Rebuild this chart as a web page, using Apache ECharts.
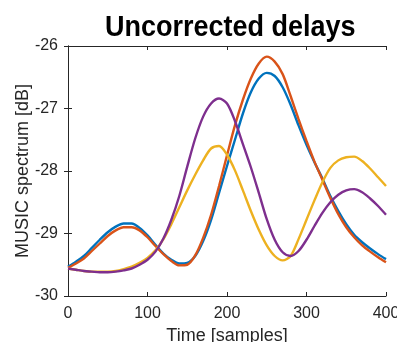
<!DOCTYPE html>
<html>
<head>
<meta charset="utf-8">
<script src="https://cdn.jsdelivr.net/npm/echarts@6/dist/echarts.min.js"></script>
<style>
  html, body { margin: 0; padding: 0; background: #fff; }
  #chart { width: 397px; height: 342px; }
</style>
</head>
<body>
<div id="chart"></div>
<script>
// values, one every 10 samples from 0 to 400 (dB)
const timeSamples = [0, 10, 20, 30, 40, 50, 60, 70, 80, 90, 100, 110, 120, 130, 140, 150, 160, 170, 180, 190, 200,
  210, 220, 230, 240, 250, 260, 270, 280, 290, 300, 310, 320, 330, 340, 350, 360, 370, 380, 390, 400];

const blueY = [-29.53, -29.45, -29.36, -29.23, -29.10, -28.98, -28.89, -28.84, -28.84, -28.91, -29.03,
  -29.18, -29.32, -29.42, -29.48, -29.47, -29.36, -29.12, -28.78, -28.35, -27.92,
  -27.50, -27.08, -26.74, -26.52, -26.43, -26.48, -26.66, -26.94, -27.27, -27.58,
  -27.86, -28.12, -28.40, -28.64, -28.85, -29.02, -29.14, -29.24, -29.33, -29.41];

const orangeY = [-29.55, -29.48, -29.40, -29.28, -29.16, -29.04, -28.95, -28.90, -28.90, -28.95, -29.06,
  -29.20, -29.33, -29.44, -29.51, -29.50, -29.35, -29.07, -28.70, -28.24, -27.75,
  -27.27, -26.86, -26.52, -26.28, -26.17, -26.25, -26.45, -26.80, -27.17, -27.52,
  -27.85, -28.14, -28.43, -28.69, -28.90, -29.06, -29.19, -29.29, -29.38, -29.46];

const yellowY = [-29.56, -29.58, -29.60, -29.61, -29.61, -29.61, -29.60, -29.57, -29.53, -29.47, -29.39,
  -29.27, -29.09, -28.85, -28.58, -28.31, -28.06, -27.83, -27.64, -27.60, -27.74,
  -27.99, -28.31, -28.64, -28.94, -29.19, -29.36, -29.43, -29.36, -29.09, -28.78,
  -28.47, -28.18, -27.95, -27.83, -27.78, -27.77, -27.84, -27.96, -28.10, -28.24];

const purpleY = [-29.56, -29.58, -29.60, -29.61, -29.62, -29.62, -29.61, -29.59, -29.56, -29.50, -29.42,
  -29.29, -29.08, -28.78, -28.40, -27.93, -27.48, -27.13, -26.92, -26.84, -26.92,
  -27.20, -27.57, -27.94, -28.35, -28.77, -29.10, -29.30, -29.36, -29.28, -29.10,
  -28.88, -28.67, -28.50, -28.38, -28.31, -28.29, -28.34, -28.44, -28.56, -28.70];

const seriesList = [
  { y: blueY, color: '#0072BD' },
  { y: orangeY, color: '#D95319' },
  { y: yellowY, color: '#EDB120' },
  { y: purpleY, color: '#7E2F8E' }
];

const axisColor = '#262626';
const labelFont = 'Liberation Sans';
const chart = echarts.init(document.getElementById('chart'));

chart.setOption({
  animation: false,
  // title: narrow bold look, squeezed horizontally
  graphic: [{
    type: 'text',
    x: 105,
    y: 28,
    scaleX: 0.9,
    style: {
      text: 'Uncorrected delays',
      font: 'bold 30px "Liberation Sans"',
      fill: '#000',
      align: 'left',
      verticalAlign: 'middle'
    }
  }],
  grid: { left: 68, right: 11, top: 46, bottom: 46, outerBoundsMode: 'none' },
  xAxis: [
    {
      type: 'value', min: 0, max: 400, interval: 100,
      name: 'Time [samples]', nameLocation: 'middle', nameGap: 29,
      nameTextStyle: { fontFamily: labelFont, fontSize: 18, color: axisColor },
      axisLine: { lineStyle: { color: axisColor } },
      axisTick: { inside: true, length: 4, lineStyle: { color: axisColor } },
      axisLabel: { fontFamily: labelFont, fontSize: 16, color: axisColor, margin: 10 },
      splitLine: { show: false }
    },
    {
      type: 'value', min: 0, max: 400, interval: 100, position: 'top',
      axisLine: { show: true, lineStyle: { color: axisColor } },
      axisTick: { inside: true, length: 4, lineStyle: { color: axisColor } },
      axisLabel: { show: false },
      splitLine: { show: false }
    }
  ],
  yAxis: [
    {
      type: 'value', min: -30, max: -26, interval: 1,
      name: 'MUSIC spectrum [dB]', nameLocation: 'middle', nameGap: 36, nameMoveOverlap: false,
      nameTextStyle: { fontFamily: labelFont, fontSize: 18, color: axisColor },
      axisLine: { show: true, lineStyle: { color: axisColor } },
      axisTick: { show: true, inside: true, length: 4, lineStyle: { color: axisColor } },
      axisLabel: { fontFamily: labelFont, fontSize: 16, color: axisColor, margin: 10 },
      splitLine: { show: false }
    },
    {
      type: 'value', min: -30, max: -26, interval: 1, position: 'right',
      axisLine: { show: true, lineStyle: { color: axisColor } },
      axisTick: { show: true, inside: true, length: 4, lineStyle: { color: axisColor } },
      axisLabel: { show: false },
      splitLine: { show: false }
    }
  ],
  series: seriesList.map(s => ({
    type: 'line',
    smooth: 0.3,
    symbol: 'none',
    data: timeSamples.map((t, i) => [t, s.y[i]]),
    lineStyle: { color: s.color, width: 2.4 }
  }))
});
</script>
</body>
</html>
